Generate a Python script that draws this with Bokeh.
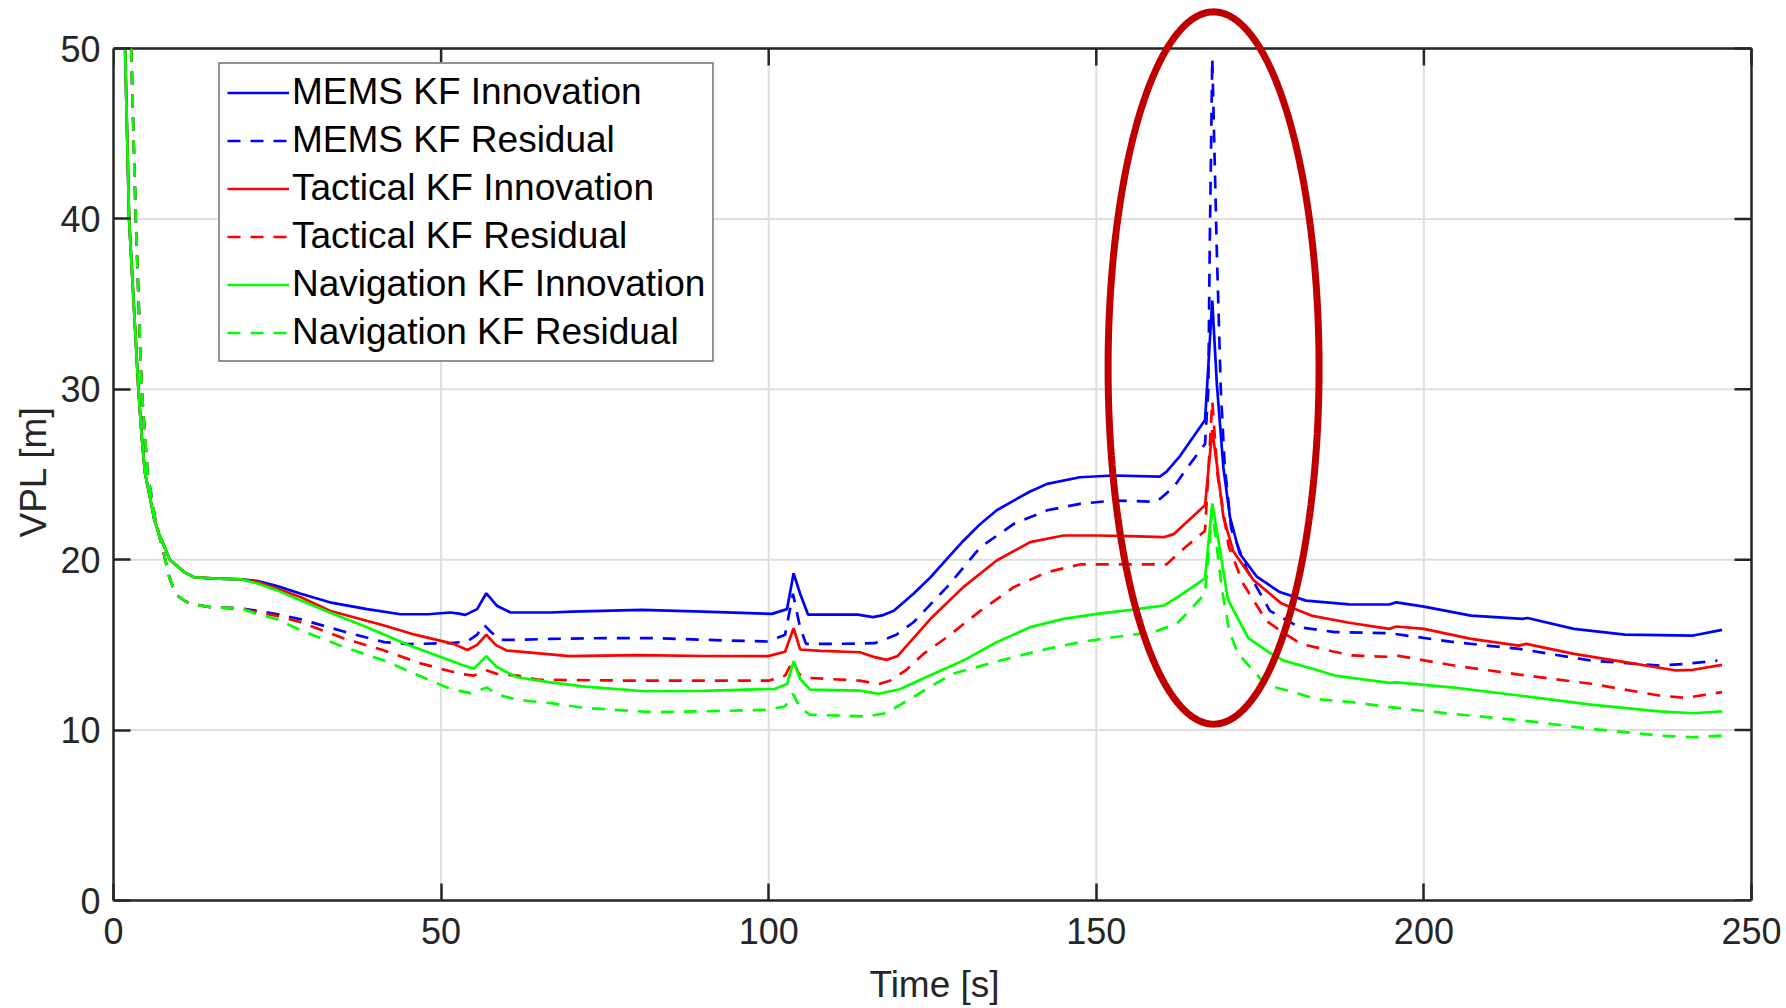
import numpy as np
from bokeh.plotting import figure
from bokeh.models import Range1d, FixedTicker, Legend, LegendItem, PolyAnnotation, Title
from bokeh.embed import file_html
from bokeh.resources import INLINE

# ---------------- data ----------------
x_ticks = [0, 50, 100, 150, 200, 250]
y_ticks = [0, 10, 20, 30, 40, 50]

# common start (all innovation curves overlap, all residual curves overlap)
t_early_inn = [1.77, 2.38, 3.8, 4.3, 4.8, 5.7, 6.2, 6.95, 8.6, 10.8, 12.3, 15.0, 19.4]
v_early_inn = [50.0, 40.0, 30.0, 27.25, 25.1, 23.4, 22.4, 21.5, 20.0, 19.27, 18.97, 18.9, 18.85]
t_early_res = [2.7, 3.4, 4.3, 5.2, 6.35, 7.5, 7.9, 8.5, 9.5, 11.0, 12.3, 15.0, 19.4]
v_early_res = [50.0, 40.0, 30.0, 25.1, 22.4, 20.6, 20.0, 19.0, 17.96, 17.55, 17.37, 17.2, 17.15]

t_mems_inn = [22, 25, 28.6, 33, 38.7, 43.8, 48, 51.4, 52.5, 53.7, 55.5, 56.9, 58.5, 60.6, 66.7, 70,
              80.6, 90, 100.5, 102.8, 103.8, 104.8, 106, 113.6, 115.9, 117.5, 119.1, 122.1, 124.7,
              127.2, 129.7, 132.3, 134.8, 137.4, 139.9, 142.5, 147.5, 152.6, 159.7, 160.7, 162.8,
              166.6, 167.7, 168.4, 169.4, 170.4, 171.9, 174.5, 178, 182, 188.6, 194.7, 195.8, 200,
              207.2, 215.1, 215.8, 222.9, 230.7, 241.1, 245.5]
v_mems_inn = [18.75, 18.45, 18.0, 17.5, 17.1, 16.8, 16.8, 16.9, 16.85, 16.76, 17.1, 18.03, 17.3, 16.9,
              16.9, 16.95, 17.06, 16.95, 16.82, 17.1, 19.2, 18.0, 16.78, 16.78, 16.63, 16.75, 17.0,
              18.0, 18.97, 20.05, 21.1, 22.1, 22.9, 23.47, 24.0, 24.45, 24.84, 24.94, 24.88, 25.16,
              26.1, 28.2, 35.2, 30.3, 25.4, 22.5, 20.35, 19.0, 18.1, 17.6, 17.38, 17.37, 17.5, 17.25,
              16.72, 16.53, 16.58, 15.94, 15.6, 15.55, 15.88]

t_mems_res = [22, 25, 28.6, 35, 41.3, 45, 51.4, 54, 55.5, 56.5, 57.5, 59, 61.6, 66.7, 75, 82.4, 90,
              99.9, 102.5, 103.7, 104.8, 105.7, 110, 116.2, 119.5, 122.1, 127.2, 132.3, 137.4, 142.5,
              147.5, 152.6, 159.2, 161.8, 163.5, 166.6, 167.1, 167.3, 167.7, 168.4, 169.0, 169.6,
              170.6, 173, 176.5, 181, 186.4, 194.7, 204.6, 214.5, 225.5, 235.9, 240, 244.8]
v_mems_res = [17.0, 16.8, 16.5, 15.8, 15.16, 15.05, 15.1, 15.2, 15.6, 16.2, 15.8, 15.3, 15.3, 15.35,
              15.4, 15.4, 15.3, 15.2, 15.6, 18.0, 16.0, 15.06, 15.06, 15.1, 15.6, 16.33, 18.39, 20.73,
              22.1, 22.9, 23.28, 23.47, 23.4, 24.25, 25.2, 26.8, 30.0, 38.0, 49.4, 38.0, 30.0, 25.5,
              21.8, 19.4, 17.0, 16.03, 15.75, 15.69, 15.16, 14.77, 14.08, 13.79, 13.89, 14.08]

t_tac_inn = [22, 25, 28.6, 33, 41.3, 46, 51.9, 54, 55.5, 56.9, 58.3, 60, 66.7, 69.5, 80, 90, 99.9,
             102.5, 103.8, 104.8, 108, 113.9, 116, 118, 119.7, 124.7, 129.7, 134.8, 139.9, 145,
             150.1, 155, 160.3, 161.8, 166.6, 167.7, 168.4, 169.4, 170.9, 174, 178.2, 183,
             188.6, 194.7, 195.8, 200, 207.2, 214.5, 215.6, 222.9, 230.7, 238.5, 241.1, 245.5]
v_tac_inn = [18.7, 18.3, 17.8, 17.0, 16.14, 15.6, 15.06, 14.7, 15.0, 15.6, 15.0, 14.67, 14.44, 14.34,
             14.4, 14.35, 14.34, 14.6, 15.98, 14.73, 14.65, 14.57, 14.3, 14.12, 14.35, 16.53, 18.39,
             19.95, 21.03, 21.42, 21.42, 21.38, 21.32, 21.5, 23.2, 27.6, 25.6, 22.5, 20.5, 18.8,
             17.45, 16.7, 16.3, 15.94, 16.08, 15.94, 15.35, 14.96, 15.06, 14.47, 13.99, 13.5,
             13.54, 13.83]

t_tac_res = [22, 25, 28.6, 35, 41.3, 47, 52.9, 55, 57, 58.5, 61.6, 64.9, 80, 100, 102.5, 103.7, 104.6,
             105.7, 113.9, 116.8, 118.5, 120.9, 123.6, 127.2, 132.3, 137.4, 142.5, 147.5, 152.6,
             160.7, 163.5, 166.6, 167.7, 168.5, 170.2, 172.4, 176, 178.4, 181.2, 186, 189, 194.7,
             195.8, 204.6, 214.5, 225.5, 235.9, 240, 245.5]
v_tac_res = [16.9, 16.7, 16.33, 15.4, 14.67, 13.9, 13.3, 13.2, 13.5, 13.3, 13.2, 12.95, 12.9, 12.9,
             13.2, 14.08, 13.3, 13.07, 12.9, 12.7, 12.9, 13.5, 14.47, 15.45, 17.0, 18.39, 19.27,
             19.72, 19.72, 19.72, 20.7, 21.7, 29.3, 25.0, 20.8, 18.6, 16.4, 15.75, 15.06, 14.63,
             14.38, 14.3, 14.38, 13.79, 13.26, 12.72, 12.03, 11.89, 12.23]

t_nav_inn = [22, 25, 28.6, 33, 38.7, 45, 51.4, 53, 55, 56.9, 58.5, 61.6, 66.7, 72, 81.2, 90, 101,
             102.8, 103.8, 104.8, 106.3, 113.9, 116.8, 120, 124, 129.7, 134.8, 139.9, 145, 150.1,
             155.2, 160.3, 162.8, 166.6, 167.7, 168.9, 170.1, 173.2, 176.2, 178.6, 183, 186.4, 194.7,
             195.8, 204.6, 215.1, 225.5, 235.9, 241.1, 245.5]
v_nav_inn = [18.6, 18.2, 17.6, 16.9, 16.04, 15.0, 14.08, 13.85, 13.6, 14.34, 13.7, 13.1, 12.8, 12.55,
             12.28, 12.3, 12.42, 12.7, 14.04, 13.0, 12.38, 12.32, 12.13, 12.4, 13.1, 14.08, 15.16,
             16.04, 16.53, 16.82, 17.06, 17.31, 17.9, 18.9, 23.3, 20.5, 17.65, 15.4, 14.6, 14.08,
             13.6, 13.2, 12.77, 12.8, 12.49, 12.0, 11.5, 11.1, 10.99, 11.1]

t_nav_res = [22, 25, 28.6, 35, 41.3, 46, 51.4, 54.5, 57, 58.5, 61.6, 66.7, 72, 82.4, 90, 99.9, 102.5,
             103.7, 104.8, 106.3, 115, 118, 122, 128, 135.5, 142.5, 147.5, 152.6, 158.7, 162.3,
             166.6, 167.7, 169.2, 170.3, 171.6, 175.9, 178.4, 181.2, 183.5, 189, 193.7, 199.4,
             203.9, 215.1, 225.5, 235.9, 241.1, 245.5]
v_nav_res = [16.8, 16.5, 15.85, 14.9, 14.08, 13.3, 12.42, 12.17, 12.5, 12.1, 11.78, 11.58, 11.3,
             11.05, 11.1, 11.19, 11.4, 12.13, 11.3, 10.9, 10.8, 11.0, 11.93, 13.3, 14.1, 14.77, 15.16,
             15.45, 15.75, 16.24, 18.0, 22.9, 18.2, 15.8, 14.5, 12.66, 12.4, 12.1, 11.82, 11.64,
             11.4, 11.15, 10.97, 10.56, 10.07, 9.68, 9.58, 9.68]

labels = ["MEMS KF Innovation", "MEMS KF Residual", "Tactical KF Innovation",
          "Tactical KF Residual", "Navigation KF Innovation", "Navigation KF Residual"]

# highlight ellipse: centre and semi-axes in data units
ellipse_cx, ellipse_cy = 167.9, 31.25
ellipse_ax, ellipse_ay = 16.1, 20.9

# ---------------- figure ----------------
FONT = "Liberation Sans"
DARK = "#262626"
GRID = "#dedede"

FRAME_LEFT, BOX_RIGHT, BOX_TOP, FRAME_BOTTOM = 113, 1751, 48, 900
PX_PER_X = (BOX_RIGHT - FRAME_LEFT) / (x_ticks[-1] - x_ticks[0])
PX_PER_Y = (FRAME_BOTTOM - BOX_TOP) / (y_ticks[-1] - y_ticks[0])
EXTRA_R = 4                                    # px of frame right of the box edge
X_END = x_ticks[-1] + EXTRA_R / PX_PER_X
Y_END = FRAME_BOTTOM / PX_PER_Y                # frame reaches the page top (room for the ellipse)

p = figure(width=1786, height=1008, x_range=Range1d(x_ticks[0], X_END), y_range=Range1d(y_ticks[0], Y_END),
           output_backend="svg", toolbar_location=None,
           min_border_left=FRAME_LEFT, min_border_right=1786 - BOX_RIGHT - EXTRA_R,
           min_border_top=0, min_border_bottom=1008 - FRAME_BOTTOM,
           background_fill_color="white", border_fill_color="white")
p.outline_line_color = None

for ax in [p.xaxis[0], p.yaxis[0]]:
    ax.axis_line_color = DARK
    ax.axis_line_width = 2.5
    ax.major_tick_line_color = DARK
    ax.major_tick_line_width = 2.5
    ax.major_tick_in = 17
    ax.major_tick_out = 0
    ax.minor_tick_line_color = None
    ax.major_label_text_font = FONT
    ax.major_label_text_font_size = "36px"
    ax.major_label_text_color = DARK
    ax.axis_label_text_font = FONT
    ax.axis_label_text_font_size = "37px"
    ax.axis_label_text_font_style = "normal"
    ax.axis_label_text_color = DARK

p.xaxis[0].ticker = FixedTicker(ticks=x_ticks)
p.yaxis[0].ticker = FixedTicker(ticks=y_ticks)
p.xaxis[0].bounds = (x_ticks[0], x_ticks[-1])
p.yaxis[0].bounds = (y_ticks[0], y_ticks[-1])
p.xaxis[0].axis_label = "Time [s]"
p.xaxis[0].major_label_standoff = 17
p.xaxis[0].axis_label_standoff = 17
p.yaxis[0].major_label_standoff = 13

# y label as a left-side title; starts 363 px above the x axis
p.add_layout(Title(text="VPL [m]", align="left", offset=363, standoff=8,
                   text_font=FONT, text_font_size="37px", text_font_style="normal",
                   text_color=DARK), "left")

n_x, n_y = len(x_ticks), len(y_ticks)
tick_len_y = 17 / PX_PER_Y
tick_len_x = 17 / PX_PER_X

# grid limited to the 0..50 box
p.xgrid.grid_line_color = None
p.ygrid.grid_line_color = None
p.segment(x0=x_ticks, y0=[y_ticks[0]] * n_x, x1=x_ticks, y1=[y_ticks[-1]] * n_x,
          line_color=GRID, line_width=2, level="underlay")
p.segment(x0=[x_ticks[0]] * n_y, y0=y_ticks, x1=[x_ticks[-1]] * n_y, y1=y_ticks,
          line_color=GRID, line_width=2, level="underlay")

# top and right edges of the box with inward ticks
p.segment(x0=[x_ticks[0], x_ticks[-1]], y0=[y_ticks[-1], y_ticks[0]],
          x1=[x_ticks[-1], x_ticks[-1]], y1=[y_ticks[-1], y_ticks[-1]],
          line_color=DARK, line_width=2.5)
p.segment(x0=x_ticks, y0=[y_ticks[-1]] * n_x, x1=x_ticks, y1=[y_ticks[-1] - tick_len_y] * n_x,
          line_color=DARK, line_width=2.5)
p.segment(x0=[x_ticks[-1]] * n_y, y0=y_ticks, x1=[x_ticks[-1] - tick_len_x] * n_y, y1=y_ticks,
          line_color=DARK, line_width=2.5)

LW = 2.7
DASH = "13 10"
series = [
    (t_early_inn + t_mems_inn, v_early_inn + v_mems_inn, "#0000ff", "solid"),
    (t_early_res + t_mems_res, v_early_res + v_mems_res, "#0000ff", DASH),
    (t_early_inn + t_tac_inn, v_early_inn + v_tac_inn, "#ff0000", "solid"),
    (t_early_res + t_tac_res, v_early_res + v_tac_res, "#ff0000", DASH),
    (t_early_inn + t_nav_inn, v_early_inn + v_nav_inn, "#00ff00", "solid"),
    (t_early_res + t_nav_res, v_early_res + v_nav_res, "#00ff00", DASH),
]
items = []
for (tt, vv, col, dash), lab in zip(series, labels):
    r = p.line(tt, vv, line_color=col, line_width=LW, line_dash=dash)
    items.append(LegendItem(label=lab, renderers=[r]))

legend = Legend(items=items, location=(105, 538), margin=0, padding=7, spacing=6,
                glyph_width=62, glyph_height=41, label_height=41, label_standoff=3,
                label_text_font=FONT, label_text_font_size="37px", label_text_color="black",
                border_line_color=DARK, border_line_width=2.5, background_fill_color="white",
                background_fill_alpha=1.0)
p.add_layout(legend)

ang = np.linspace(0, 2 * np.pi, 240)
ell = PolyAnnotation(xs=list(ellipse_cx + ellipse_ax * np.cos(ang)),
                     ys=list(ellipse_cy + ellipse_ay * np.sin(ang)),
                     fill_alpha=0.0, line_color="#c00000", line_alpha=1.0, line_width=7)
p.add_layout(ell)

open("out.html", "w").write(file_html(p, INLINE))
